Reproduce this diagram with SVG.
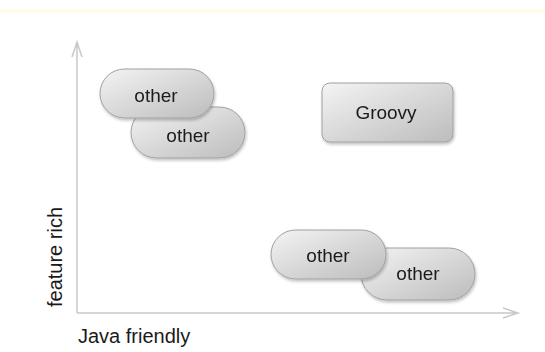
<svg xmlns="http://www.w3.org/2000/svg" width="545" height="352" viewBox="0 0 545 352">
<style>
.lbl{font-family:"Liberation Sans",Arial,sans-serif;fill:#1a1a1a}
.node text{font-size:19px;text-anchor:middle}
.axis{stroke:#c8c8c8;stroke-width:1.5;fill:none}
.box{fill:url(#g);stroke:#a0a0a0;stroke-width:1}
</style>
<defs>
<linearGradient id="g" x1="0" y1="0" x2="1" y2="1">
<stop offset="0" stop-color="#f4f4f4"/>
<stop offset="1" stop-color="#bcbcbc"/>
</linearGradient>
<filter id="sh" x="-10%" y="-10%" width="130%" height="140%">
<feGaussianBlur in="SourceAlpha" stdDeviation="1.5"/>
<feOffset dx="1" dy="2"/>
<feComponentTransfer><feFuncA type="linear" slope="0.25"/></feComponentTransfer>
<feMerge><feMergeNode/><feMergeNode in="SourceGraphic"/></feMerge>
</filter>
</defs>
<rect width="545" height="352" fill="#fff"/>
<rect x="0" y="9" width="545" height="4" fill="#fffbe8"/>
<g id="connectors">
<path class="axis" d="M77 313 V42 M72 57 L77 42 L82 57"/>
<path class="axis" d="M77 313 H518 M503 308 L518 313 L503 318"/>
</g>
<g id="other2" class="node" filter="url(#sh)">
<rect class="box" x="131" y="107" width="114" height="51" rx="25.5"/>
<text class="lbl" x="188" y="142">other</text>
</g>
<g id="other1" class="node" filter="url(#sh)">
<rect class="box" x="100" y="69" width="114" height="49" rx="24.5"/>
<text class="lbl" x="156" y="102">other</text>
</g>
<g id="groovy" class="node" filter="url(#sh)">
<rect class="box" x="322" y="83" width="131" height="59" rx="8"/>
<text class="lbl" x="386" y="119">Groovy</text>
</g>
<g id="other4" class="node" filter="url(#sh)">
<rect class="box" x="361" y="248" width="114" height="52" rx="26"/>
<text class="lbl" x="418" y="280">other</text>
</g>
<g id="other3" class="node" filter="url(#sh)">
<rect class="box" x="271" y="230" width="115" height="49" rx="24.5"/>
<text class="lbl" x="328" y="262">other</text>
</g>
<text class="lbl" x="78" y="343" font-size="20">Java friendly</text>
<text class="lbl" transform="translate(62 257) rotate(-90)" font-size="20" text-anchor="middle">feature rich</text>
</svg>
